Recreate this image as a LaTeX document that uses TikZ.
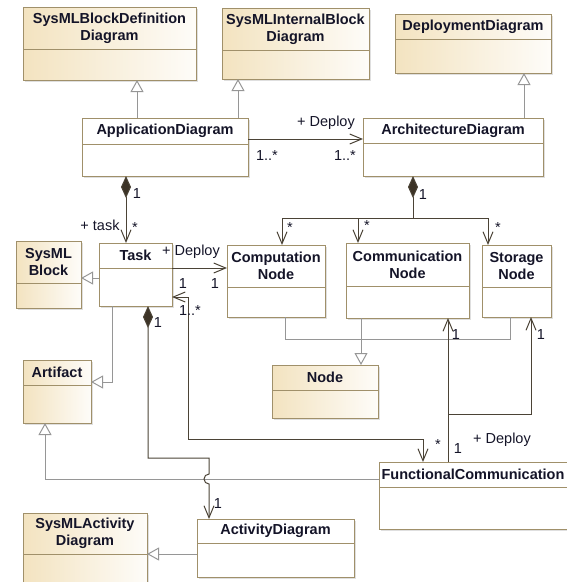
\documentclass[tikz,border=0pt]{standalone}
\usepackage{fontspec}
\setmainfont{Liberation Sans}
\usetikzlibrary{positioning,arrows.meta,shadows}
\definecolor{umlborder}{RGB}{160, 144, 106}
\definecolor{umlbeige}{RGB}{243, 227, 192}
\definecolor{umltext}{RGB}{20, 20, 40}
\definecolor{assocgray}{RGB}{75, 67, 54}
\definecolor{generalgray}{RGB}{150, 150, 150}
\definecolor{diamondbrown}{RGB}{60, 51, 38}

\begin{document}
\begin{tikzpicture}[x=1pt, y=-1pt,
classname/.style={rectangle, draw=umlborder, line width=1pt, outer sep=0pt, anchor=north west, align=center, inner xsep=1pt, inner ysep=0pt, text=umltext, font=\fontsize{14.5}{16.7}\selectfont\bfseries, drop shadow={shadow xshift=1.5pt, shadow yshift=-1.5pt, opacity=0.25}},
classbody/.style={rectangle, draw=umlborder, line width=1pt, outer sep=0pt, drop shadow={shadow xshift=1.5pt, shadow yshift=-1.5pt, opacity=0.25}},
beigefill/.style={left color=umlbeige, right color=umlbeige!10},
whitefill/.style={fill=white},
rolelabel/.style={text=umltext, font=\fontsize{14.5}{16.7}\selectfont, inner sep=0pt, text height=10.4pt, text depth=0pt},
general/.style={draw=generalgray, line width=1pt, -{Triangle[open, length=12pt, width=13pt]}},
assoc/.style={draw=assocgray, line width=1pt, >={Straight Barb[length=12pt, width=10pt]}},
compose/.style={assoc, {Diamond[length=22pt, width=10pt, fill=diamondbrown]}->},
composetrunk/.style={assoc, {Diamond[length=22pt, width=10pt, fill=diamondbrown]}-}
]
\useasboundingbox (0,0) rectangle (567,582);

%Nodes
%Nodes top diagrams
\node[classname, beigefill, minimum width=173pt, minimum height=42pt] (sbdd) at (23,7) {SysMLBlockDefinition\\Diagram};
\node[classbody, beigefill, minimum width=173pt, minimum height=31pt, below=0pt of sbdd] (sbdd_body) {};

\node[classname, beigefill, minimum width=147pt, minimum height=42pt] (sibd) at (222,8) {SysMLInternalBlock\\Diagram};
\node[classbody, beigefill, minimum width=147pt, minimum height=29pt, below=0pt of sibd] (sibd_body) {};

\node[classname, beigefill, minimum width=156pt, minimum height=25pt] (deploy) at (395,14) {DeploymentDiagram};
\node[classbody, beigefill, minimum width=156pt, minimum height=34pt, below=0pt of deploy] (deploy_body) {};

%Nodes application and architecture
\node[classname, whitefill, minimum width=166pt, minimum height=26pt] (appl) at (82,118) {ApplicationDiagram};
\node[classbody, whitefill, minimum width=166pt, minimum height=32pt, below=0pt of appl] (appl_body) {};

\node[classname, whitefill, minimum width=180pt, minimum height=25pt] (arch) at (363,118) {ArchitectureDiagram};
\node[classbody, whitefill, minimum width=180pt, minimum height=33pt, below=0pt of arch] (arch_body) {};

%Nodes task row
\node[classname, whitefill, minimum width=73pt, minimum height=25pt] (task) at (99,243) {Task};
\node[classbody, whitefill, minimum width=73pt, minimum height=38pt, below=0pt of task] (task_body) {};

\node[classname, beigefill, minimum width=65pt, minimum height=42pt] (block) at (16,241) {SysML\\Block};
\node[classbody, beigefill, minimum width=65pt, minimum height=25pt, below=0pt of block] (block_body) {};

\node[classname, whitefill, minimum width=98pt, minimum height=42pt] (comp) at (227,245) {Computation\\Node};
\node[classbody, whitefill, minimum width=98pt, minimum height=30pt, below=0pt of comp] (comp_body) {};

\node[classname, whitefill, minimum width=123pt, minimum height=43pt] (comm) at (346,243) {Communication\\Node};
\node[classbody, whitefill, minimum width=123pt, minimum height=32pt, below=0pt of comm] (comm_body) {};

\node[classname, whitefill, minimum width=69pt, minimum height=42pt] (stor) at (482,245) {Storage\\Node};
\node[classbody, whitefill, minimum width=69pt, minimum height=30pt, below=0pt of stor] (stor_body) {};

%Nodes lower part
\node[classname, beigefill, minimum width=68pt, minimum height=25pt] (artifact) at (23,360) {Artifact};
\node[classbody, beigefill, minimum width=68pt, minimum height=38pt, below=0pt of artifact] (artifact_body) {};

\node[classname, beigefill, minimum width=106pt, minimum height=25pt] (node) at (272,365) {Node};
\node[classbody, beigefill, minimum width=106pt, minimum height=28pt, below=0pt of node] (node_body) {};

\node[classname, whitefill, minimum width=188pt, minimum height=25pt] (fc) at (379,462) {FunctionalCommunication};
\node[classbody, whitefill, minimum width=188pt, minimum height=42pt, below=0pt of fc] (fc_body) {};

\node[classname, whitefill, minimum width=157pt, minimum height=24pt] (activity) at (197,519) {ActivityDiagram};
\node[classbody, whitefill, minimum width=157pt, minimum height=34pt, below=0pt of activity] (activity_body) {};

\node[classname, beigefill, minimum width=124pt, minimum height=41pt] (sad) at (23,513) {SysMLActivity\\Diagram};
\node[classbody, beigefill, minimum width=124pt, minimum height=28pt, below=0pt of sad] (sad_body) {};

%Arrow
%Arrow generalization
\draw[general] ([xshift=55pt]appl.north west) -- ([xshift=114pt]sbdd_body.south west);
\draw[general] ([xshift=156pt]appl.north west) -- ([xshift=16pt]sibd_body.south west);
\draw[general] ([xshift=161pt]arch.north west) -- ([xshift=129pt]deploy_body.south west);
\draw[general] ([yshift=-10pt]task_body.north west) -- ([yshift=-37pt]block.north east);
\draw[general] ([xshift=13pt]task_body.south west) |- ([yshift=-22pt]artifact.north east);
\draw[general, -] ([xshift=58pt]comp_body.south west) -- ++(0,22) -| ([xshift=28pt]stor_body.south west);
\draw[general] ([xshift=15pt]comm_body.south west) -- ([xshift=89pt]node.north west);
\draw[general] ([yshift=8pt]fc.south west) -| ([xshift=22pt]artifact_body.south west);
\draw[general] ([yshift=-11pt]activity_body.north west) -- (sad.south east);

%Arrow association
\draw[assoc, ->] ([yshift=5pt]appl.south east) -- ([yshift=4pt]arch.south west);
\draw[compose] ([xshift=44pt]appl_body.south west) -- ([xshift=27pt]task.north west);
\draw[composetrunk] ([xshift=50pt]arch_body.south west) -- ++(0,42) coordinate (arch_split);
\draw[assoc, ->] (arch_split) -| ([xshift=55pt]comp.north west);
\draw[assoc, ->] (arch_split) -| ([xshift=12pt]comm.north west);
\draw[assoc, ->] (arch_split) -| ([xshift=6pt]stor.north west);
\draw[assoc, ->] (task.south east) -- ([yshift=-23pt]comp.north west);
\draw[assoc, <->] ([yshift=9pt]task_body.south east) -- ++(16,0) -- ++(0,142) -| ([xshift=44pt]fc.north west);
\draw[assoc, ->] ([xshift=69pt]fc.north west) -- ([xshift=102pt]comm_body.south west);
\draw[assoc, ->] ([xshift=69pt]fc.north west) -- ++(0,-48) -| ([xshift=49pt]stor_body.south west);
\draw[compose] ([xshift=49pt]task_body.south west) -- ++(0,152) -- ++(61,0) -- ++(0,16) arc[start angle=270, end angle=90, radius=5] -- ([xshift=12pt]activity.north west);

%Labels
\node[rolelabel] (lbl_deploy_arch) at (326,121) {+ Deploy};
\node[rolelabel] (lbl_appl_many) at (267,155) {1..*};
\node[rolelabel] (lbl_arch_many) at (345,155) {1..*};
\node[rolelabel] (lbl_appl_one) at (137,193) {1};
\node[rolelabel] (lbl_task_role) at (100,225) {+ task};
\node[rolelabel] (lbl_task_many) at (135,227) {*};
\node[rolelabel] (lbl_arch_one) at (423,194) {1};
\node[rolelabel] (lbl_comp_many) at (290,227) {*};
\node[rolelabel] (lbl_comm_many) at (367,225) {*};
\node[rolelabel] (lbl_stor_many) at (498,227) {*};
\node[rolelabel] (lbl_deploy_comp) at (191,250) {+ Deploy};
\node[rolelabel] (lbl_task_one) at (183,283) {1};
\node[rolelabel] (lbl_comp_one) at (215,283) {1};
\node[rolelabel] (lbl_task_fc) at (190,310) {1..*};
\node[rolelabel] (lbl_task_comp) at (158,322) {1};
\node[rolelabel] (lbl_comm_one) at (456,334) {1};
\node[rolelabel] (lbl_stor_one) at (541,334) {1};
\node[rolelabel] (lbl_fc_many) at (438,444) {*};
\node[rolelabel] (lbl_fc_one) at (458,448) {1};
\node[rolelabel] (lbl_deploy_fc) at (502,438) {+ Deploy};
\node[rolelabel] (lbl_activity_one) at (218,503) {1};

\end{tikzpicture}
\end{document}
